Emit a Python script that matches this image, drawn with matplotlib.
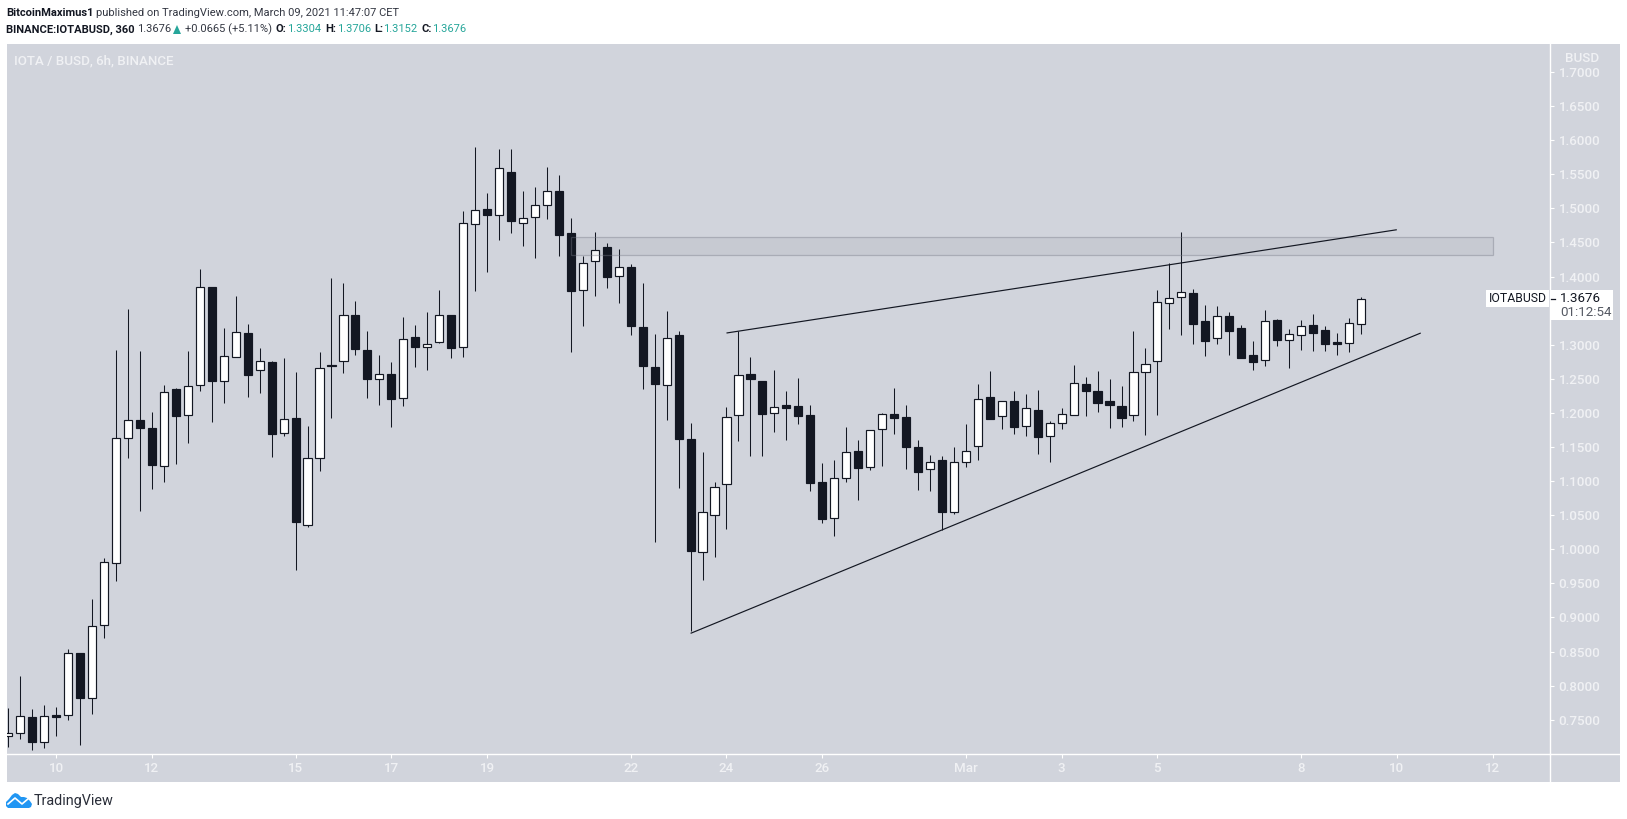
import numpy as np
import pandas as pd
import matplotlib
matplotlib.use('Agg')
import matplotlib.pyplot as plt
import matplotlib.dates as mdates
from matplotlib.patches import Rectangle, Polygon

# 6h candles, first bar is Feb 9 00:00
start_date = '2021-02-09'
opens = [0.7255, 0.7299, 0.7534, 0.7167, 0.7568, 0.7563, 0.8473, 0.7813, 0.8884, 0.9793,
         1.1627, 1.1896, 1.1778, 1.1216, 1.2346, 1.1964, 1.2404, 1.3842, 1.2463, 1.2815,
         1.3167, 1.2624, 1.2742, 1.1700, 1.1920, 1.0351, 1.1333, 1.2703, 1.2756, 1.3431,
         1.2923, 1.2492, 1.2566, 1.2214, 1.3109, 1.2961, 1.3034, 1.3435, 1.2961, 1.4765,
         1.4990, 1.4897, 1.5533, 1.4780, 1.4868, 1.5044, 1.5254, 1.4638, 1.3797, 1.4222,
         1.4433, 1.4002, 1.4139, 1.3259, 1.2672, 1.2403, 1.3142, 1.1616, 0.9953, 1.0496,
         1.0951, 1.1963, 1.2570, 1.2467, 1.1992, 1.2115, 1.2100, 1.1968, 1.0986, 1.0453,
         1.1040, 1.1441, 1.1201, 1.1758, 1.1978, 1.1939, 1.1494, 1.1172, 1.1304, 1.0541,
         1.1274, 1.1509, 1.2233, 1.1949, 1.2174, 1.1802, 1.2037, 1.1656, 1.1846, 1.1964,
         1.2423, 1.2321, 1.2174, 1.2101, 1.1964, 1.2595, 1.2756, 1.3607, 1.3705, 1.3753,
         1.3348, 1.3093, 1.3416, 1.3245, 1.2849, 1.2771, 1.3362, 1.3064, 1.3137, 1.3289,
         1.3216, 1.3035, 1.3020, 1.3304]
highs = [0.7671, 0.8140, 0.7656, 0.7715, 0.7686, 0.8536, 0.8473, 0.9270, 0.9866, 1.2923,
         1.3519, 1.2908, 1.2008, 1.2404, 1.2360, 1.2908, 1.4111, 1.3842, 1.3241, 1.3715,
         1.3304, 1.2947, 1.2761, 1.2805, 1.2600, 1.1808, 1.2888, 1.3974, 1.3906, 1.3637,
         1.3201, 1.2849, 1.2742, 1.3407, 1.3289, 1.3479, 1.3802, 1.3435, 1.4961, 1.5900,
         1.5225, 1.5870, 1.5870, 1.5254, 1.5313, 1.5606, 1.5489, 1.4858, 1.4301, 1.4653,
         1.4491, 1.4403, 1.4183, 1.3904, 1.3156, 1.3494, 1.3200, 1.1851, 1.1425, 1.0985,
         1.2085, 1.3195, 1.2819, 1.2467, 1.2628, 1.2320, 1.2511, 1.2115, 1.1264, 1.1308,
         1.1793, 1.1602, 1.1749, 1.1993, 1.2365, 1.2115, 1.1602, 1.1382, 1.1362, 1.1499,
         1.1837, 1.2423, 1.2614, 1.2169, 1.2321, 1.2277, 1.2335, 1.1881, 1.2071, 1.2702,
         1.2526, 1.2614, 1.2497, 1.2394, 1.3201, 1.2952, 1.3802, 1.4198, 1.4648, 1.3817,
         1.3582, 1.3568, 1.3480, 1.3289, 1.3054, 1.3509, 1.3377, 1.3230, 1.3362, 1.3450,
         1.3274, 1.3172, 1.3392, 1.3706]
lows = [0.7104, 0.7216, 0.7055, 0.7089, 0.7265, 0.7495, 0.7133, 0.7588, 0.8703, 0.9539,
        1.1343, 1.0566, 1.0888, 1.0991, 1.1255, 1.1563, 1.2326, 1.1871, 1.2150, 1.2815,
        1.2238, 1.2297, 1.1358, 1.1666, 0.9700, 1.0331, 1.1153, 1.1930, 1.2590, 1.2854,
        1.2223, 1.2121, 1.1798, 1.2106, 1.2678, 1.2633, 1.3030, 1.2809, 1.2824, 1.3792,
        1.4071, 1.4540, 1.4643, 1.4452, 1.4276, 1.4848, 1.4305, 1.2897, 1.3279, 1.3719,
        1.3836, 1.3616, 1.3147, 1.2354, 1.0110, 1.1900, 1.0902, 0.8804, 0.9552, 0.9890,
        1.0301, 1.1592, 1.1371, 1.1371, 1.1724, 1.1606, 1.1841, 1.0858, 1.0389, 1.0198,
        1.0991, 1.0727, 1.1167, 1.1225, 1.1695, 1.1181, 1.0873, 1.0859, 1.0282, 1.0511,
        1.1211, 1.1313, 1.1915, 1.1768, 1.1695, 1.1665, 1.1401, 1.1284, 1.1768, 1.1964,
        1.1959, 1.2018, 1.1783, 1.1797, 1.1886, 1.1680, 1.1974, 1.3235, 1.3147, 1.3015,
        1.2839, 1.3015, 1.2854, 1.2810, 1.2634, 1.2692, 1.2986, 1.2663, 1.2927, 1.2912,
        1.2912, 1.2854, 1.2898, 1.3152]
closes = [0.7299, 0.7549, 0.7177, 0.7549, 0.7544, 0.8473, 0.7822, 0.8869, 0.9808, 1.1627,
          1.1891, 1.1783, 1.1241, 1.2302, 1.1959, 1.2390, 1.3842, 1.2473, 1.2830, 1.3182,
          1.2561, 1.2756, 1.1695, 1.1906, 1.0404, 1.1333, 1.2654, 1.2688, 1.3431, 1.2942,
          1.2502, 1.2566, 1.2209, 1.3079, 1.2972, 1.3005, 1.3430, 1.2956, 1.4780, 1.4971,
          1.4907, 1.5587, 1.4819, 1.4853, 1.5044, 1.5249, 1.4614, 1.3792, 1.4193, 1.4384,
          1.3997, 1.4134, 1.3279, 1.2692, 1.2428, 1.3093, 1.1621, 0.9978, 1.0540, 1.0907,
          1.1934, 1.2550, 1.2501, 1.1988, 1.2081, 1.2076, 1.1958, 1.0975, 1.0448, 1.1040,
          1.1421, 1.1196, 1.1744, 1.1978, 1.1930, 1.1504, 1.1137, 1.1274, 1.0551, 1.1274,
          1.1436, 1.2198, 1.1915, 1.2169, 1.1797, 1.2066, 1.1651, 1.1846, 1.1978, 1.2433,
          1.2326, 1.2150, 1.2120, 1.1930, 1.2595, 1.2712, 1.3621, 1.3680, 1.3768, 1.3309,
          1.3059, 1.3416, 1.3206, 1.2810, 1.2751, 1.3343, 1.3074, 1.3152, 1.3269, 1.3176,
          1.3015, 1.3015, 1.3313, 1.3676]

# drawings on the chart
zone_dates = ['2021-02-20 18:00', '2021-03-12 00:00']
zone_prices = [1.4312, 1.4575]
upper_dates = ['2021-02-24 00:00', '2021-03-10 00:00']
upper_prices = [1.3172, 1.4687]
lower_dates = ['2021-02-23 06:00', '2021-03-10 12:00']
lower_prices = [0.8767, 1.3172]

tick_dates = ['2021-02-10', '2021-02-12', '2021-02-15', '2021-02-17', '2021-02-19',
              '2021-02-22', '2021-02-24', '2021-02-26', '2021-03-01', '2021-03-03',
              '2021-03-05', '2021-03-08', '2021-03-10', '2021-03-12']
tick_labels = ['10', '12', '15', '17', '19', '22', '24', '26', 'Mar', '3', '5', '8', '10', '12']
price_ticks = [0.75, 0.80, 0.85, 0.90, 0.95, 1.00, 1.05, 1.10, 1.15, 1.20, 1.25, 1.30,
               1.35, 1.40, 1.45, 1.50, 1.55, 1.60, 1.65, 1.70]
# 1.3500 sits under the last price box in the reference
price_labels = ['0.7500', '0.8000', '0.8500', '0.9000', '0.9500', '1.0000', '1.0500', '1.1000',
                '1.1500', '1.2000', '1.2500', '1.3000', '', '1.4000', '1.4500', '1.5000',
                '1.5500', '1.6000', '1.6500', '1.7000']

BG = '#d1d4dc'
DARK = '#131722'
TEAL = '#26a69a'
FAINT = '#f0f1f4'
GREY = '#333742'
W, H = 1627, 819
HEAD_SIZE = 8.0

plt.rcParams['font.family'] = ['Roboto', 'DejaVu Sans']


def fx(px):
    return px / W


def fy(py):
    return 1 - py / H


def head_text(px, py, s, color, weight='normal'):
    fig.text(fx(px), fy(py), s, color=color, fontsize=HEAD_SIZE, fontweight=weight,
             ha='left', va='center')


fig = plt.figure(figsize=(W / 100, H / 100), dpi=100, facecolor='white')
fig.add_artist(Rectangle((fx(7), fy(782)), fx(1613), 738 / H, transform=fig.transFigure,
                         facecolor=BG, edgecolor='none', zorder=0))

ax = fig.add_axes([fx(7), fy(754.3), fx(1543.3), 710.3 / H], facecolor=BG)

dates = pd.date_range(start_date, periods=len(opens), freq='6h')
x = mdates.date2num(dates)
o = np.array(opens)
h = np.array(highs)
l = np.array(lows)
c = np.array(closes)
up = c >= o

ax.vlines(x, l, h, color=DARK, lw=0.75, zorder=3)
bar_w = 0.25 * 0.68
ax.bar(x, np.abs(c - o), bottom=np.minimum(o, c), width=bar_w,
       color=np.where(up, 'white', DARK), edgecolor=DARK, linewidth=0.85, zorder=4)

zx = mdates.date2num(pd.to_datetime(zone_dates))
ax.add_patch(Rectangle((zx[0], zone_prices[0]), zx[1] - zx[0], zone_prices[1] - zone_prices[0],
                       facecolor=(0.07, 0.09, 0.13, 0.05), edgecolor=(0.47, 0.48, 0.53, 0.4),
                       linewidth=0.9, zorder=5))
for d, p in [(upper_dates, upper_prices), (lower_dates, lower_prices)]:
    ax.plot(mdates.date2num(pd.to_datetime(d)), p, color=DARK, lw=0.85, zorder=6,
            solid_capstyle='butt')

bar_days = (1543.3 / 11.97) / 4
ax.set_xlim(x[0] - 0.027, x[0] - 0.027 + bar_days)
ax.set_ylim(0.6993, 1.7411)

ax.set_xticks(mdates.date2num(pd.to_datetime(tick_dates)))
ax.set_xticklabels(tick_labels)
ax.yaxis.tick_right()
ax.set_yticks(price_ticks)
ax.set_yticklabels(price_labels)
ax.tick_params(axis='x', colors='white', length=3, width=0.8, pad=2.5, labelcolor=FAINT, labelsize=9.6)
ax.tick_params(axis='y', colors='white', length=3, width=0.8, pad=3, labelcolor=FAINT, labelsize=9.6)
for lab in ax.get_xticklabels() + ax.get_yticklabels():
    lab.set_fontweight('medium')
for side in ['top', 'left']:
    ax.spines[side].set_visible(False)
for side in ['right', 'bottom']:
    ax.spines[side].set_color('white')
    ax.spines[side].set_linewidth(1.0)

# axis lines run on through the corner of the panel
fig.add_artist(plt.Line2D([fx(1550.3), fx(1550.3)], [fy(754), fy(782)], color='white', lw=1.0))
fig.add_artist(plt.Line2D([fx(1550.3), fx(1620)], [fy(754.3), fy(754.3)], color='white', lw=1.0))

# currency label hides the top of the 1.7000 tick label
fig.add_artist(Rectangle((fx(1552), fy(67.3)), fx(66), 23 / H, transform=fig.transFigure,
                         facecolor=BG, edgecolor='none', zorder=5))
fig.text(fx(1599), fy(59), 'BUSD', color=FAINT, fontsize=9.6, fontweight='medium', ha='right', va='center', zorder=6)

fig.text(fx(14), fy(60.5), 'IOTA / BUSD, 6h, BINANCE', color=FAINT, fontsize=9.6,
         ha='left', va='center', fontweight='medium')

# last price labels
for bx, by, bw, bh in [(1486, 290, 63, 17), (1551, 290, 61.5, 30.5)]:
    fig.add_artist(Rectangle((fx(bx), fy(by + bh)), fx(bw), bh / H, transform=fig.transFigure,
                             facecolor='white', edgecolor='none', zorder=5))
fig.add_artist(plt.Line2D([fx(1551), fx(1555)], [fy(298.5), fy(298.5)], color=DARK, lw=0.9, zorder=6))
fig.text(fx(1517.5), fy(298.5), 'IOTABUSD', color=DARK, fontsize=8.8, ha='center', va='center', zorder=6)
fig.text(fx(1560), fy(298.5), '1.3676', color=DARK, fontsize=9.6, ha='left', va='center', zorder=6)
fig.text(fx(1560), fy(313), '01:12:54', color='#555963', fontsize=9.6, ha='left', va='center', zorder=6)

# header
head_text(6, 13, 'BitcoinMaximus1', DARK, 'bold')
head_text(96, 13, 'published on TradingView.com, March 09, 2021 11:47:07 CET', GREY)
head_text(6, 29.5, 'BINANCE:IOTABUSD, 360', DARK, 'bold')
head_text(137, 29.5, '1.3676', GREY)
fig.add_artist(Polygon([(fx(173), fy(34)), (fx(181), fy(34)), (fx(177), fy(25))], closed=True,
                       transform=fig.transFigure, facecolor=TEAL, edgecolor='none'))
head_text(185, 29.5, '+0.0665 (+5.11%)', GREY)
for key_x, key, val_x, val in [(275, 'O:', 287, '1.3304'), (325, 'H:', 337, '1.3706'),
                               (374, 'L:', 383, '1.3152'), (421, 'C:', 432, '1.3676')]:
    head_text(key_x, 29.5, key, DARK, 'bold')
    head_text(val_x, 29.5, val, TEAL)

# TradingView logo
cloud = [(6, 806), (6, 802), (9, 799), (12, 795), (15, 793), (18, 794), (21, 797), (24, 797),
         (27, 798), (30, 801), (32, 804), (31, 807), (29, 808), (8, 808)]
fig.add_artist(Polygon([(fx(a), fy(b)) for a, b in cloud], closed=True, transform=fig.transFigure,
                       facecolor='#2196f3', edgecolor='none'))
fig.add_artist(plt.Line2D([fx(a) for a in (8, 15, 22, 29)], [fy(b) for b in (804, 798, 804, 798)],
                          color='white', lw=1.2))
fig.text(fx(34), fy(800.5), 'TradingView', color='#2a2e39', fontsize=10.4, ha='left', va='center')

fig.savefig('out.png', dpi=100)
plt.close(fig)
